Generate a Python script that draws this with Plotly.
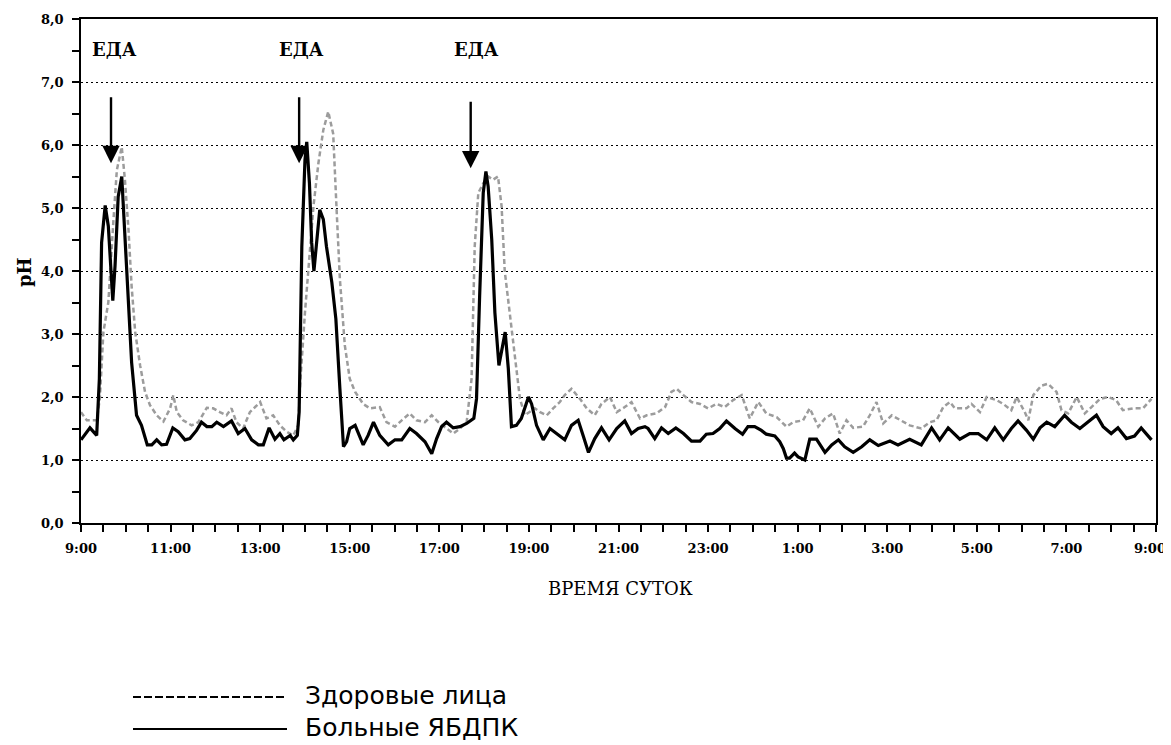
import plotly.graph_objects as go

# ---------------- data (hours after 9:00, pH) ----------------
sick_hours = [0, 0.2, 0.35, 0.41, 0.46, 0.54, 0.61, 0.71, 0.76, 0.83, 0.91, 0.96, 1.06, 1.13, 1.24, 1.35, 1.48, 1.58,
              1.69, 1.80, 1.91, 2.05, 2.17, 2.32, 2.43, 2.58, 2.69, 2.81, 2.92, 3.03, 3.18, 3.36, 3.51, 3.66, 3.81,
              3.96, 4.07, 4.2, 4.33, 4.44, 4.53, 4.67, 4.74, 4.83, 4.87, 4.93, 5.0, 5.04, 5.1, 5.15, 5.2, 5.26,
              5.33, 5.41, 5.48, 5.6, 5.69, 5.78, 5.86, 5.93, 6.0, 6.12, 6.3, 6.41, 6.53, 6.67, 6.86, 7.01, 7.16,
              7.34, 7.49, 7.68, 7.83, 7.94, 8.05, 8.16, 8.31, 8.46, 8.61, 8.77, 8.83, 8.9, 8.98, 9.04, 9.09, 9.17,
              9.24, 9.33, 9.39, 9.47, 9.54, 9.61, 9.72, 9.83, 9.99, 10.06, 10.17, 10.32, 10.47, 10.62, 10.8,
              10.95, 11.1, 11.21, 11.33, 11.47, 11.62, 11.79, 11.96, 12.14, 12.29, 12.44, 12.59, 12.66, 12.81,
              12.96, 13.11, 13.28, 13.45, 13.63, 13.82, 13.96, 14.11, 14.26, 14.41, 14.6, 14.77, 14.89, 15.04,
              15.19, 15.3, 15.49, 15.6, 15.68, 15.75, 15.82, 15.93, 16.01, 16.16, 16.27, 16.42, 16.61, 16.76,
              16.91, 17.05, 17.24, 17.43, 17.61, 17.8, 18.06, 18.24, 18.5, 18.76, 18.99, 19.17, 19.36, 19.62,
              19.84, 20.03, 20.22, 20.4, 20.59, 20.77, 20.92, 21.11, 21.26, 21.41, 21.56, 21.74, 21.96, 22.11,
              22.3, 22.45, 22.67, 22.82, 23.0, 23.15, 23.34, 23.52, 23.67, 23.9]
sick_ph = [1.32, 1.51, 1.39, 2.29, 4.45, 5.04, 4.71, 3.53, 4.08, 5.18, 5.5, 4.82, 3.34, 2.55, 1.71, 1.55, 1.24, 1.24,
           1.32, 1.24, 1.25, 1.51, 1.45, 1.32, 1.34, 1.47, 1.6, 1.53, 1.53, 1.6, 1.53, 1.62, 1.42, 1.5, 1.32,
           1.24, 1.24, 1.51, 1.33, 1.42, 1.32, 1.39, 1.32, 1.39, 1.76, 4.39, 5.76, 6.05, 5.39, 4.45, 4.0, 4.45,
           4.97, 4.82, 4.39, 3.82, 3.24, 2.13, 1.21, 1.29, 1.5, 1.55, 1.24, 1.39, 1.6, 1.39, 1.24, 1.32, 1.32,
           1.5, 1.42, 1.29, 1.1, 1.34, 1.53, 1.6, 1.51, 1.53, 1.58, 1.66, 1.97, 3.61, 5.24, 5.58, 5.34, 4.5,
           3.34, 2.5, 2.71, 3.03, 2.45, 1.53, 1.55, 1.66, 2.0, 1.89, 1.55, 1.32, 1.5, 1.42, 1.32,
           1.55, 1.63, 1.39, 1.12, 1.34, 1.51, 1.32, 1.5, 1.62, 1.42, 1.5, 1.53, 1.5, 1.34,
           1.51, 1.42, 1.51, 1.42, 1.3, 1.3, 1.41, 1.42, 1.5, 1.62, 1.5, 1.41, 1.53, 1.53,
           1.47, 1.41, 1.38, 1.29, 1.18, 1.03, 1.03, 1.11, 1.05, 1.0, 1.33, 1.33, 1.12, 1.24,
           1.32, 1.21, 1.12, 1.21, 1.32, 1.23, 1.3, 1.24, 1.33, 1.24, 1.51, 1.32, 1.51, 1.33,
           1.42, 1.42, 1.32, 1.51, 1.32, 1.5, 1.62, 1.47, 1.33, 1.51, 1.6, 1.53, 1.71, 1.6,
           1.5, 1.58, 1.71, 1.53, 1.42, 1.51, 1.34, 1.38, 1.51, 1.32]

healthy_hours = [0, 0.13, 0.35, 0.42, 0.5, 0.61, 0.72, 0.8, 0.91, 0.98, 1.06, 1.13, 1.21, 1.32, 1.43, 1.54, 1.69,
                 1.84, 1.99, 2.06, 2.14, 2.28, 2.47, 2.62, 2.81, 2.95, 3.1, 3.25, 3.36, 3.47, 3.62, 3.77, 4.0,
                 4.14, 4.29, 4.44, 4.59, 4.74, 4.85, 4.9, 5.0, 5.11, 5.19, 5.3, 5.41, 5.52, 5.63, 5.71, 5.78,
                 5.89, 6.0, 6.12, 6.3, 6.45, 6.67, 6.82, 7.01, 7.16, 7.34, 7.49, 7.68, 7.83, 7.98, 8.16, 8.31,
                 8.46, 8.61, 8.72, 8.79, 8.87, 8.98, 9.09, 9.2, 9.31, 9.39, 9.46, 9.57, 9.69, 9.8, 9.91, 10.02,
                 10.13, 10.25, 10.4, 10.54, 10.69, 10.8, 10.95, 11.14, 11.29, 11.47, 11.62, 11.81, 11.96, 12.14,
                 12.29, 12.48, 12.63, 12.85, 13.04, 13.18, 13.3, 13.45, 13.63, 13.82, 14.0, 14.19, 14.37, 14.56,
                 14.75, 14.93, 15.12, 15.3, 15.53, 15.75, 15.9, 16.12, 16.27, 16.46, 16.61, 16.79, 16.94, 17.09,
                 17.24, 17.46, 17.61, 17.76, 17.91, 18.1, 18.5, 18.76, 18.95, 19.1, 19.25, 19.4, 19.51, 19.77,
                 19.88, 20.07, 20.22, 20.44, 20.59, 20.77, 20.89, 21.07, 21.15, 21.26, 21.44, 21.59, 21.78, 21.89,
                 22.04, 22.23, 22.41, 22.56, 22.75, 22.93, 23.11, 23.26, 23.49, 23.71, 23.9]
healthy_ph = [1.76, 1.63, 1.63, 1.97, 3.03, 3.5, 4.76, 5.6, 5.97, 5.45, 4.66, 3.76, 3.03, 2.5, 2.08, 1.87, 1.71,
              1.61, 1.82, 2.03, 1.76, 1.63, 1.55, 1.6, 1.83, 1.82, 1.76, 1.71, 1.82, 1.6, 1.5, 1.76, 1.92,
              1.66, 1.71, 1.55, 1.45, 1.39, 1.55, 2.29, 3.34, 4.29, 5.03, 5.71, 6.24, 6.53, 6.18, 4.92, 3.87,
              2.82, 2.29, 2.08, 1.89, 1.82, 1.84, 1.6, 1.53, 1.63, 1.74, 1.63, 1.6, 1.71, 1.6, 1.5, 1.42,
              1.5, 1.6, 2.29, 4.39, 5.24, 5.39, 5.5, 5.45, 5.5, 5.03, 4.0, 3.34, 2.55, 1.97, 1.71, 1.76,
              1.82, 1.76, 1.71, 1.82, 1.92, 2.03, 2.13, 1.97, 1.82, 1.71, 1.89, 2.0, 1.76, 1.84,
              1.92, 1.66, 1.71, 1.74, 1.84, 2.08, 2.13, 2.03, 1.92, 1.89, 1.82, 1.89, 1.84, 1.95,
              2.03, 1.66, 1.92, 1.74, 1.68, 1.53, 1.6, 1.63, 1.82, 1.53, 1.66, 1.74, 1.42, 1.63,
              1.51, 1.53, 1.71, 1.92, 1.58, 1.71, 1.55, 1.5, 1.6, 1.63, 1.84, 1.92, 1.82, 1.82,
              1.89, 1.76, 2.0, 1.95, 1.89, 1.79, 2.0, 1.76, 1.63, 2.03, 2.18, 2.21, 2.08, 1.79,
              1.74, 2.0, 1.74, 1.84, 1.97, 2.0, 1.95, 1.79, 1.82, 1.82, 1.97]

x_tick_vals = [0, 2, 4, 6, 8, 10, 12, 14, 16, 18, 20, 22, 24]
x_tick_text = ["9:00", "11:00", "13:00", "15:00", "17:00", "19:00", "21:00", "23:00",
               "1:00", "3:00", "5:00", "7:00", "9:00"]

meal_hours = [0.67, 4.87, 8.70]
meal_tip_ph = [5.71, 5.71, 5.63]
meal_tail_ph = [6.78, 6.78, 6.71]
meal_label_hours = [0.74, 4.93, 8.84]
meal_label = "ЕДА"

series_names = ["Здоровые лица", "Больные ЯБДПК"]

# ---------------- figure ----------------
# the page adds an 8px body margin, so the figure is 8px smaller than the window
OFF = 8
W, H = 1171 - OFF, 745 - OFF
ML, MR, MT = 81 - OFF, 15, 19 - OFF
PW = W - ML - MR
MB = H - (523 - OFF)
PH = H - MT - MB


def px_to_paper(px, py):
    """page pixel (as in the reference) -> paper coordinates"""
    return (px - OFF - ML) / PW, (H - MB - (py - OFF)) / PH


SERIF = "DejaVu Serif"
SANS = "DejaVu Sans"
TICKFONT = dict(family=SERIF, size=13, color="black", weight="bold")

fig = go.Figure()
fig.add_trace(go.Scatter(x=healthy_hours, y=healthy_ph, mode="lines", name=series_names[0],
                         line=dict(color="#9c9c9c", width=2.5, dash="5px,3px"), showlegend=False))
fig.add_trace(go.Scatter(x=sick_hours, y=sick_ph, mode="lines", name=series_names[1],
                         line=dict(color="black", width=3.2), showlegend=False))

for xh, tip, tail in zip(meal_hours, meal_tip_ph, meal_tail_ph):
    fig.add_annotation(x=xh, y=tip, ax=xh, ay=tail, axref="x", ayref="y", xref="x", yref="y",
                       showarrow=True, arrowhead=2, arrowwidth=2.4, arrowsize=1.45,
                       arrowcolor="black", text="", standoff=0)
for xh in meal_label_hours:
    fig.add_annotation(x=xh, y=7.51, xref="x", yref="y", text=meal_label, showarrow=False,
                       xanchor="center", yanchor="middle",
                       font=dict(family=SERIF, size=18, color="black", weight="bold"))

# the last x tick label would be clipped at the page edge: draw it right-aligned instead
shown_tick_text = x_tick_text[:-1] + [""]
px, py = px_to_paper(1168, 548)
fig.add_annotation(x=px, y=py, xref="paper", yref="paper", text=x_tick_text[-1], showarrow=False,
                   xanchor="right", yanchor="middle", font=TICKFONT)

# axis titles
px, py = px_to_paper(24, 272)
fig.add_annotation(x=px, y=py, xref="paper", yref="paper", text="pH", textangle=-90, showarrow=False,
                   xanchor="center", yanchor="middle",
                   font=dict(family=SERIF, size=18, color="black", weight="bold"))
px, py = px_to_paper(620, 588)
fig.add_annotation(x=px, y=py, xref="paper", yref="paper", text="ВРЕМЯ СУТОК", showarrow=False,
                   xanchor="center", yanchor="middle",
                   font=dict(family=SERIF, size=18, color="black"))

# custom legend
legend_rows = [(697, dict(color="black", width=2, dash="8px,3px")), (729, dict(color="black", width=2))]
for (ly, lstyle), name in zip(legend_rows, series_names):
    x0, y0 = px_to_paper(133, ly)
    x1, _ = px_to_paper(287, ly)
    fig.add_shape(type="line", xref="paper", yref="paper", x0=x0, x1=x1, y0=y0, y1=y0, line=lstyle)
    tx, ty = px_to_paper(303, ly - 2)
    fig.add_annotation(x=tx, y=ty, xref="paper", yref="paper", text=name, showarrow=False,
                       xanchor="left", yanchor="middle", font=dict(family=SANS, size=25, color="black"))

fig.update_layout(
    width=W, height=H,
    margin=dict(l=ML, r=MR, t=MT, b=MB, autoexpand=False),
    paper_bgcolor="white", plot_bgcolor="white",
    separators=", ",
    showlegend=False,
)
fig.update_xaxes(
    range=[0, 24], tickmode="array", tickvals=x_tick_vals, ticktext=shown_tick_text,
    ticks="outside", ticklen=7, tickwidth=1.5, tickcolor="black",
    minor=dict(tickmode="linear", tick0=0, dtick=0.5, ticks="outside", ticklen=7, tickwidth=1.5,
               tickcolor="black", showgrid=False),
    showline=True, linecolor="black", linewidth=1.5, mirror=True, showgrid=False, zeroline=False,
    tickfont=TICKFONT, ticklabelstandoff=6,
    automargin=False, ticklabeloverflow="allow",
)
fig.update_yaxes(
    range=[0, 8], tickmode="linear", tick0=0, dtick=1, tickformat=".1f",
    ticks="outside", ticklen=7, tickwidth=1.5, tickcolor="black",
    minor=dict(tickmode="linear", tick0=0, dtick=0.5, ticks="outside", ticklen=7, tickwidth=1.5,
               tickcolor="black", showgrid=False),
    showline=True, linecolor="black", linewidth=1.5, mirror=True,
    showgrid=True, gridcolor="black", gridwidth=1, griddash="2px,3px", zeroline=False,
    tickfont=TICKFONT, ticklabelstandoff=6,
    automargin=False, ticklabeloverflow="allow",
)

fig.write_html("out.html")
